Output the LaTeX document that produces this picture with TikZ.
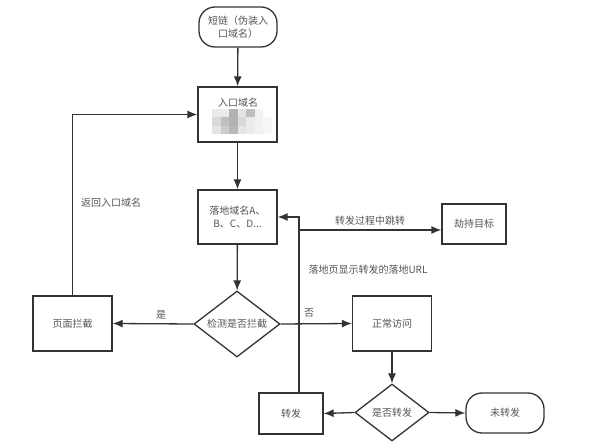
\documentclass[tikz,border=0pt]{standalone}
\usepackage{fontspec}
\newfontfamily\cjk{Noto Sans CJK SC}
\usetikzlibrary{arrows.meta}
\usetikzlibrary{positioning}
\usetikzlibrary{shapes.geometric}
\definecolor{edgegray}{RGB}{51,51,51}
\definecolor{textgray}{RGB}{85,85,85}

\begin{document}
\begin{tikzpicture}[x=1pt, y=-1pt, font=\cjk\fontsize{10}{13}\selectfont,
                block/.style={rectangle, draw=edgegray, line width=1.3pt, text=textgray, align=center, inner sep=2pt},
                term/.style={block, rounded corners=16pt},
                decide/.style={diamond, draw=edgegray, line width=1.3pt, text=textgray, inner sep=0pt, aspect=1.3},
                line/.style={text=textgray, inner sep=1pt},
                arrow/.style={draw=edgegray, line width=1.3pt, -{Latex[length=10pt, width=8pt]}},
                arrow0/.style={draw=edgegray, line width=1.3pt},
            ]
            \useasboundingbox (0,0) rectangle (589,446);
            \node[term, minimum width=78pt, minimum height=40pt] (short) at (238,27) {短链（伪装入\\口域名）};
            \node[block, minimum width=79pt, minimum height=55pt] (entry) at (237.5,114.5) {};
            \node[line] (entrytxt) at (238,103) {入口域名};
            % mosaic
            \foreach \i/\j/\g in {0/0/8,1/0/8,2/0/30,3/0/10,4/0/25,5/0/5,
                                  0/1/15,1/1/25,2/1/30,3/1/15,4/1/8,5/1/5,6/1/3,
                                  0/2/10,1/2/20,2/2/28,3/2/10,4/2/8,5/2/5,6/2/3}
                \fill[black!\g] (212+\i*8.5,109+\j*8.5) rectangle ++(8.5,8.5);
            \node[block, minimum width=79pt, minimum height=54pt] (land) at (237.5,217) {落地域名A、\\B、C、D...};
            \node[decide, minimum width=86pt, minimum height=66pt] (check) at (237,324) {检测是否拦截};
            \node[block, minimum width=79pt, minimum height=55pt] (stop) at (72.5,323.5) {页面拦截};
            \node[block, minimum width=79pt, minimum height=55pt] (normal) at (392,323.5) {正常访问};
            \node[decide, minimum width=74pt, minimum height=57pt] (isfwd) at (392,412.5) {是否转发};
            \node[block, minimum width=64pt, minimum height=41pt] (fwd) at (291,413.5) {转发};
            \node[term, minimum width=78pt, minimum height=40pt] (nofwd) at (505,413) {未转发};
            \node[block, minimum width=64pt, minimum height=40pt] (hijack) at (474,224) {劫持目标};
            \coordinate (split) at (299,230);
            \path[arrow] (short) -- (entry);
            \path[arrow] (entry) -- (land);
            \path[arrow] (land) -- (check);
            \path[arrow] (check.west) -- node[line, above=3pt, pos=0.4] {是} (stop.east);
            \path[arrow] (stop.north) |- (entry.west);
            \node[line] (backtxt) at (111,203) {返回入口域名};
            \path[arrow] (normal) -- (isfwd);
            \path[arrow] (isfwd.west) -- (fwd.east);
            \path[arrow] (isfwd.east) -- (nofwd.west);
            \path[arrow] ([xshift=8pt]fwd.north) |- (land.east);
            \path[arrow] (check.east) -- (normal.west);
            \node[line] (notxt) at (309,313) {否};
            \path[arrow] (split) -- node[line, above=3pt] {转发过程中跳转} (split -| hijack.west);
            \node[line] (urltxt) at (368,270) {落地页显示转发的落地URL};
\end{tikzpicture}
\end{document}
